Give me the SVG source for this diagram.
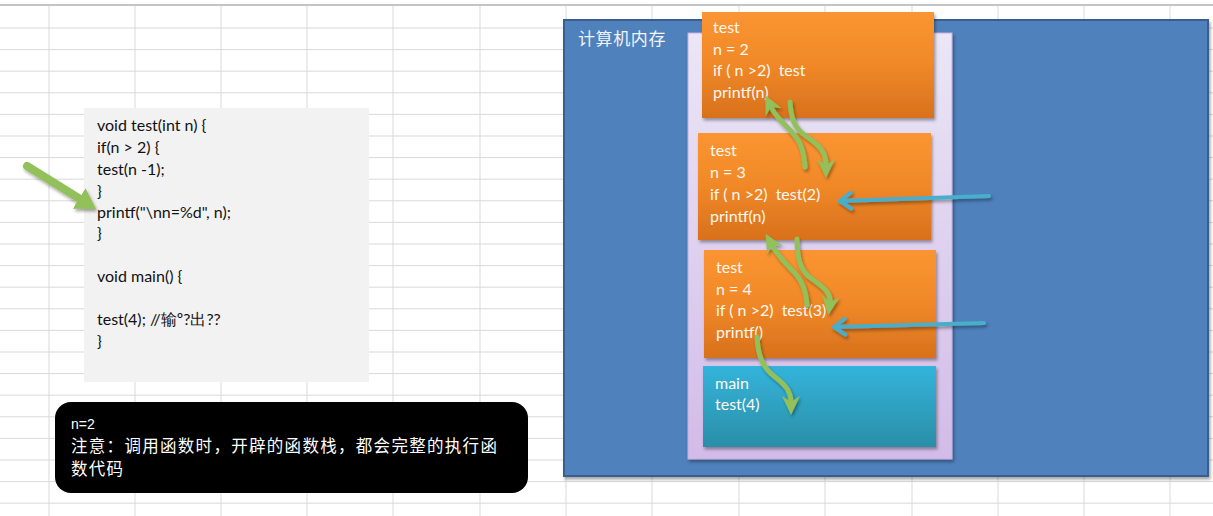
<svg xmlns="http://www.w3.org/2000/svg" width="1213" height="516" viewBox="0 0 1213 516">
<style>
.grid line{stroke:#d9d9d9;stroke-width:1}
.code{font-family:Lato,"Liberation Sans",sans-serif;font-size:16px;fill:#111}
.wt{font-family:Lato,"Liberation Sans",sans-serif;font-size:16px;fill:#fff8ee;white-space:pre}
.cjk{font-family:"Noto Sans CJK SC",sans-serif;fill:#fff}
.garrow{fill:none;stroke:#92c05a;stroke-width:5;stroke-linecap:round}
.barrow{fill:none;stroke:#4aadcc;stroke-width:4;stroke-linecap:round}
</style>
<defs>
<linearGradient id="og" x1="0" y1="0" x2="0" y2="1">
<stop offset="0" stop-color="#fb9531"/>
<stop offset="0.5" stop-color="#f08828"/>
<stop offset="1" stop-color="#d8711c"/>
</linearGradient>
<linearGradient id="cg" x1="0" y1="0" x2="0" y2="1">
<stop offset="0" stop-color="#33b4db"/>
<stop offset="1" stop-color="#2b8ea8"/>
</linearGradient>
<linearGradient id="lg" x1="0" y1="0" x2="0" y2="1">
<stop offset="0" stop-color="#ebe7f6"/>
<stop offset="1" stop-color="#d2bbe8"/>
</linearGradient>
<filter id="sh" x="-10%" y="-10%" width="130%" height="130%">
<feDropShadow dx="1.5" dy="2.5" stdDeviation="1.8" flood-color="#000" flood-opacity="0.35"/>
</filter>
<marker id="gh" viewBox="0 0 20 20" refX="6" refY="10" markerWidth="20" markerHeight="20" markerUnits="userSpaceOnUse" orient="auto">
<path d="M0,1 L19,10 L0,19 L6,10 Z" fill="#92c05a"/>
</marker>
<marker id="bh" viewBox="0 0 20 20" refX="17" refY="10" markerWidth="20" markerHeight="20" markerUnits="userSpaceOnUse" orient="auto">
<polyline points="6,2 17,10 6,18" fill="none" stroke="#4aadcc" stroke-width="4" stroke-linecap="round" stroke-linejoin="round"/>
</marker>
<marker id="bigh" viewBox="0 0 24 24" refX="1" refY="12" markerWidth="24" markerHeight="24" markerUnits="userSpaceOnUse" orient="auto">
<path d="M0,0 L20,12 L0,24 Z" fill="#92c05a"/>
</marker>
</defs>
<rect x="0" y="0" width="1213" height="516" fill="#ffffff"/>
<g class="grid">
<line x1="0" y1="5" x2="1213" y2="5" style="stroke:#c4c4c4;stroke-width:2"/>
<line x1="0" y1="28" x2="1213" y2="28"/>
<line x1="0" y1="49.6" x2="1213" y2="49.6"/>
<line x1="0" y1="71.2" x2="1213" y2="71.2"/>
<line x1="0" y1="92.8" x2="1213" y2="92.8"/>
<line x1="0" y1="114.4" x2="1213" y2="114.4"/>
<line x1="0" y1="136" x2="1213" y2="136"/>
<line x1="0" y1="157.6" x2="1213" y2="157.6"/>
<line x1="0" y1="179.2" x2="1213" y2="179.2"/>
<line x1="0" y1="200.8" x2="1213" y2="200.8"/>
<line x1="0" y1="222.4" x2="1213" y2="222.4"/>
<line x1="0" y1="244" x2="1213" y2="244"/>
<line x1="0" y1="265.6" x2="1213" y2="265.6"/>
<line x1="0" y1="287.2" x2="1213" y2="287.2"/>
<line x1="0" y1="308.8" x2="1213" y2="308.8"/>
<line x1="0" y1="330.4" x2="1213" y2="330.4"/>
<line x1="0" y1="352" x2="1213" y2="352"/>
<line x1="0" y1="373.6" x2="1213" y2="373.6"/>
<line x1="0" y1="395.2" x2="1213" y2="395.2"/>
<line x1="0" y1="416.8" x2="1213" y2="416.8"/>
<line x1="0" y1="438.4" x2="1213" y2="438.4"/>
<line x1="0" y1="460" x2="1213" y2="460"/>
<line x1="0" y1="481.6" x2="1213" y2="481.6"/>
<line x1="0" y1="503.2" x2="1213" y2="503.2"/>
<line x1="49" y1="6" x2="49" y2="516"/>
<line x1="135" y1="6" x2="135" y2="516"/>
<line x1="221" y1="6" x2="221" y2="516"/>
<line x1="307" y1="6" x2="307" y2="516"/>
<line x1="393" y1="6" x2="393" y2="516"/>
<line x1="480" y1="6" x2="480" y2="516"/>
<line x1="566" y1="6" x2="566" y2="516"/>
<line x1="652" y1="6" x2="652" y2="516"/>
<line x1="739" y1="6" x2="739" y2="516"/>
<line x1="825" y1="6" x2="825" y2="516"/>
<line x1="912" y1="6" x2="912" y2="516"/>
<line x1="998" y1="6" x2="998" y2="516"/>
<line x1="1084" y1="6" x2="1084" y2="516"/>
<line x1="1170" y1="6" x2="1170" y2="516"/>
</g>
<g id="code">
<rect x="84" y="108" width="285" height="274" fill="#f2f2f2"/>
<text class="code" x="97" y="131">void test(int n) {</text>
<text class="code" x="97" y="153">if(n &gt; 2) {</text>
<text class="code" x="97" y="175">test(n -1);</text>
<text class="code" x="97" y="197">}</text>
<text class="code" x="97" y="218">printf("\nn=%d", n);</text>
<text class="code" x="97" y="239">}</text>
<text class="code" x="97" y="282">void main() {</text>
<text class="code" x="97" y="325">test(4); //输º?出??</text>
<text class="code" x="97" y="347">}</text>
</g>
<g id="note">
<rect x="55" y="402" width="473" height="91" rx="16" fill="#000"/>
<text x="71" y="429" style="font-family:'Liberation Sans',sans-serif;font-size:14px;fill:#fff">n=2</text>
<text class="cjk" x="71" y="452" style="font-size:16.5px;letter-spacing:1.3px">注意：调用函数时，开辟的函数栈，都会完整的执行函</text>
<text class="cjk" x="71" y="475" style="font-size:16.5px;letter-spacing:1.3px">数代码</text>
</g>
<g id="memory">
<rect x="564" y="20" width="644" height="456" fill="#4f81bd" stroke="#3a5f8c" stroke-width="2" filter="url(#sh)"/>
<text class="cjk" x="578" y="45" style="font-size:17px;letter-spacing:0.6px;fill:#f2f4f8">计算机内存</text>
</g>
<g id="stack">
<rect x="688" y="33" width="264" height="426" fill="url(#lg)" stroke="#c4b0dc" stroke-width="1" filter="url(#sh)"/>
</g>
<g id="frame-n2">
<rect x="702" y="12" width="232" height="106" fill="url(#og)" filter="url(#sh)"/>
<text class="wt" x="713" y="33">test</text>
<text class="wt" x="713" y="55">n = 2</text>
<text class="wt" x="713" y="76">if ( n &gt;2)  test</text>
<text class="wt" x="713" y="98">printf(n)</text>
</g>
<g id="frame-n3">
<rect x="698" y="133" width="233" height="107" fill="url(#og)" filter="url(#sh)"/>
<text class="wt" x="710" y="156">test</text>
<text class="wt" x="710" y="178">n = 3</text>
<text class="wt" x="710" y="200">if ( n &gt;2)  test(2)</text>
<text class="wt" x="710" y="222">printf(n)</text>
</g>
<g id="frame-n4">
<rect x="704" y="250" width="232" height="108" fill="url(#og)" filter="url(#sh)"/>
<text class="wt" x="716" y="273">test</text>
<text class="wt" x="716" y="295">n = 4</text>
<text class="wt" x="716" y="316">if ( n &gt;2)  test(3)</text>
<text class="wt" x="716" y="338">printf()</text>
</g>
<g id="frame-main">
<rect x="703" y="366" width="233" height="81" fill="url(#cg)" filter="url(#sh)"/>
<text class="wt" x="715" y="389">main</text>
<text class="wt" x="715" y="410">test(4)</text>
</g>
<g id="connectors" filter="url(#sh)">
<path d="M27,166 L80,199" fill="none" stroke="#92c05a" stroke-width="8" stroke-linecap="round" marker-end="url(#bigh)"/>
<path class="garrow" d="M805,167 C804,150 800,140 790,130 C780,120 775,115 771,107" marker-end="url(#gh)"/>
<path class="garrow" d="M790,102 C791,118 794,128 806,136 C820,146 826,152 826,165" marker-end="url(#gh)"/>
<path class="garrow" d="M807,305 C806,290 802,280 792,270 C781,259 776,252 772,245" marker-end="url(#gh)"/>
<path class="garrow" d="M797,239 C797,258 800,271 812,279 C825,288 831,294 830,302" marker-end="url(#gh)"/>
<path class="garrow" d="M757,337 C758,355 762,367 775,377 C787,386 791,393 791,402" marker-end="url(#gh)"/>
<path class="barrow" d="M989,196 L840,201" marker-end="url(#bh)"/>
<path class="barrow" d="M984,323 L834,327" marker-end="url(#bh)"/>
</g>
</svg>
